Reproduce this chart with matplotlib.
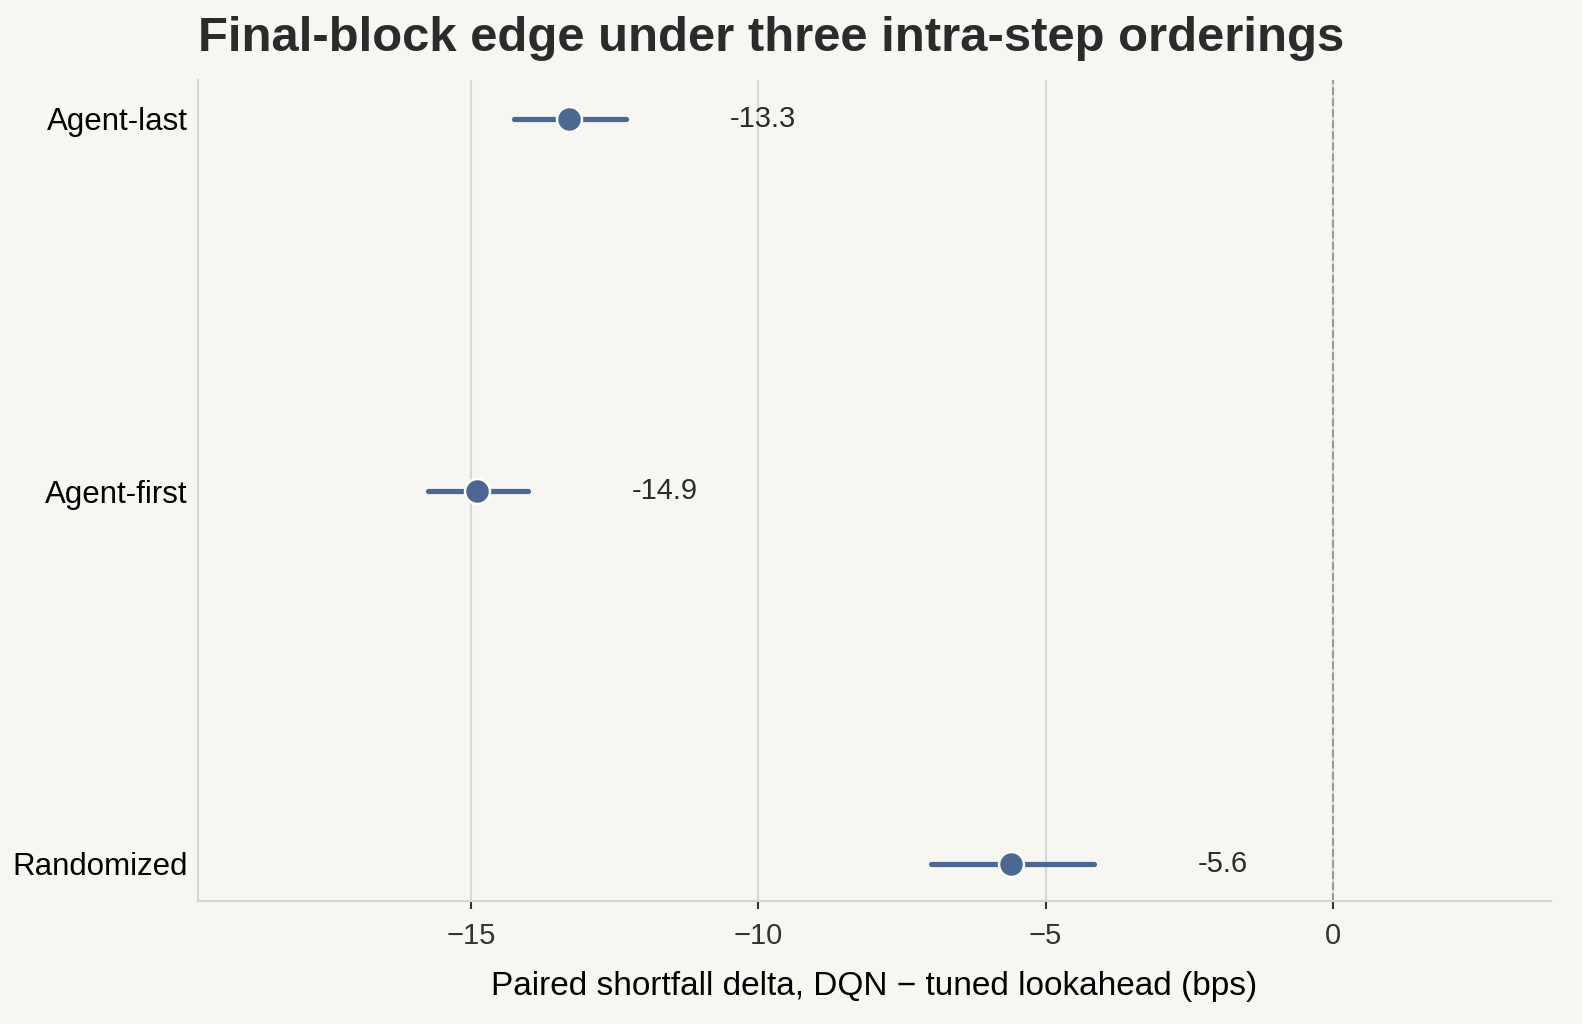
import numpy as np
import matplotlib
matplotlib.use("Agg")
import matplotlib.pyplot as plt

plt.rcParams['font.family'] = ['Liberation Sans', 'DejaVu Sans']

# Данные
orderings = ["Agent-last", "Agent-first", "Randomized"]
delta_mean = [-13.3, -14.9, -5.6]
ci_low = [-14.25, -15.75, -7.0]
ci_high = [-12.3, -14.0, -4.15]

bg = "#f7f6f2"
dot_color = "#4a6891"

fig, ax = plt.subplots(figsize=(10.553, 6.827), dpi=150)
fig.patch.set_facecolor(bg)
ax.set_facecolor(bg)
fig.subplots_adjust(left=0.125, right=0.98, top=0.922, bottom=0.12)

y = np.arange(len(orderings))

# Доверительные интервалы и точки
for yi, m, lo, hi in zip(y, delta_mean, ci_low, ci_high):
    ax.plot([lo, hi], [yi, yi], color=dot_color, lw=2.5, solid_capstyle='round', zorder=2)
    ax.plot(m, yi, 'o', ms=12, color=dot_color, mec='white', mew=1.2, zorder=3)
    ax.text(hi + 1.8, yi, f"{m:.1f}", va='center', ha='left', fontsize=14, color='#2b2b2b')

ax.axvline(0, color='#999999', ls='--', lw=1, zorder=1)

ax.set_yticks(y)
ax.set_yticklabels(orderings, fontsize=15, color='black')
ax.set_ylim(2.1, -0.105)
ax.set_xlim(-19.75, 3.8)
ax.set_xticks([-15, -10, -5, 0])
ax.set_xticklabels(["\u221215", "\u221210", "\u22125", "0"])
ax.tick_params(axis='x', labelsize=14, colors='#333333', length=4, width=1, pad=6)
ax.tick_params(axis='y', length=0, pad=5)

ax.grid(axis='x', color='#d9d7d2', lw=1)
ax.set_axisbelow(True)
for s in ['top', 'right']:
    ax.spines[s].set_visible(False)
for s in ['left', 'bottom']:
    ax.spines[s].set_color('#d6d4cf')
    ax.spines[s].set_linewidth(1)

ax.set_xlabel("Paired shortfall delta, DQN \u2212 tuned lookahead (bps)", fontsize=16, labelpad=10)
ax.set_title("Final-block edge under three intra-step orderings", fontsize=23.5,
             fontweight='bold', color='#2b2b2b', loc='left', pad=14)

plt.savefig("out.png", dpi=150, facecolor=bg)
